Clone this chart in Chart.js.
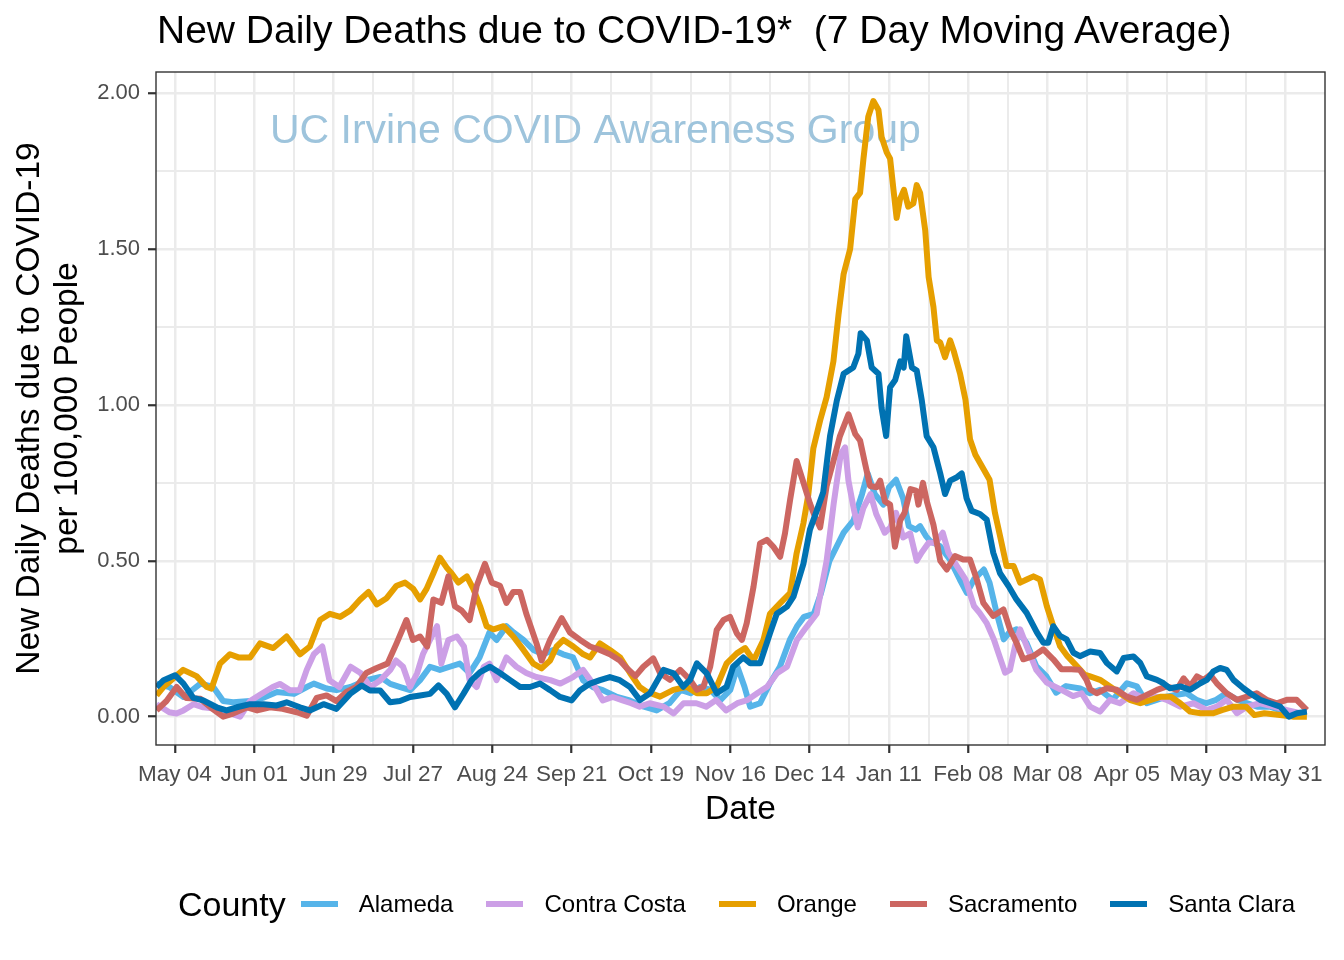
<!DOCTYPE html>
<html>
<head>
<meta charset="utf-8">
<script src="https://cdn.jsdelivr.net/npm/chart.js@4.4.1/dist/chart.umd.min.js"></script>
<style>
  html, body { margin: 0; padding: 0; background: #ffffff; }
  #wrap { position: relative; width: 1344px; height: 960px; overflow: hidden;
          font-family: "Liberation Sans", Arial, Helvetica, sans-serif; background: #fff; }
  #chart { position: absolute; left: 0; top: 0; }
  #title { position: absolute; left: 157px; top: 10px; font-size: 39px; line-height: 39px;
           color: #000; white-space: pre; }
  #legend { position: absolute; left: 178px; top: 884px; height: 40px; display: flex;
            align-items: center; white-space: pre; }
  #legend .ltitle { font-size: 34px; color: #000; margin-right: 15px; }
  #legend .key { width: 37px; height: 6px; margin-right: 21px; }
  #legend .lab { font-size: 24px; color: #000; margin-right: 33px; }
</style>
</head>
<body>
<div id="wrap">
  <canvas id="chart" width="1344" height="960"></canvas>
  <div id="title"></div>
  <div id="legend"></div>
</div>
<script>
// ---------------- data (x = days since 2020-05-04, y = deaths per 100,000) ----------------
const chartTitle = "New Daily Deaths due to COVID-19*  (7 Day Moving Average)";
const xAxisTitle = "Date";
const yAxisTitle = ["New Daily Deaths due to COVID-19", "per 100,000 People"];
const legendTitle = "County";
const watermarkText = "UC Irvine COVID Awareness Group";

const xTickDays = [0, 28, 56, 84, 112, 140, 168, 196, 224, 252, 280, 308, 336, 364, 392];
const xTickLabels = ["May 04", "Jun 01", "Jun 29", "Jul 27", "Aug 24", "Sep 21", "Oct 19",
                     "Nov 16", "Dec 14", "Jan 11", "Feb 08", "Mar 08", "Apr 05", "May 03", "May 31"];
const xMinorDays = [14, 42, 70, 98, 126, 154, 182, 210, 238, 266, 294, 322, 350, 378];
const yTickValues = [0, 0.5, 1, 1.5, 2];
const yMinorValues = [0.25, 0.75, 1.25, 1.75];

const seriesNames = ["Alameda", "Contra Costa", "Orange", "Sacramento", "Santa Clara"];
const seriesColors = ["#56B4E9", "#CC9FE6", "#E69F00", "#CC6661", "#0072B2"];

const alameda = [[-6.5,0.106],[-2,0.095],[3,0.063],[9,0.106],[13.5,0.095],[17,0.05],[20.5,0.046],[26.5,0.05],[31,0.06],[36,0.079],
[42,0.073],[46.5,0.095],[49,0.106],[53.5,0.09],[57,0.085],[62,0.095],[67.5,0.117],[72.5,0.127],[76,0.105],[79.5,0.095],
[83,0.085],[86.5,0.117],[90,0.16],[93.5,0.15],[97,0.16],[100.5,0.17],[104,0.14],[107.5,0.19],[111,0.27],[113.5,0.246],
[117,0.29],[119.5,0.27],[123,0.246],[126.5,0.214],[130,0.2],[133.5,0.214],[137,0.2],[140.5,0.19],[144,0.117],[147.5,0.095],
[151,0.085],[156,0.063],[160.5,0.052],[165.5,0.032],[170,0.02],[174.5,0.043],[178.5,0.086],[182,0.075],[185.5,0.096],[189,0.086],
[192.5,0.053],[196,0.086],[198.5,0.16],[201,0.096],[203,0.032],[206.5,0.043],[210,0.107],[213.5,0.16],[217,0.246],[219.5,0.289],
[222,0.32],[225.5,0.33],[228,0.396],[231,0.5],[233.5,0.545],[236,0.59],[239.5,0.63],[242.5,0.714],[244.5,0.78],[247,0.714],
[250,0.68],[252,0.736],[254.5,0.76],[257,0.7],[259,0.611],[261.5,0.6],[263,0.611],[265,0.58],[266.5,0.564],[270,0.547],
[273.5,0.504],[277,0.44],[279.5,0.397],[282,0.44],[285.5,0.472],[287.5,0.43],[290,0.333],[292.5,0.248],[294.5,0.27],[297,0.28],
[300.5,0.237],[304,0.162],[307.5,0.13],[311,0.077],[314.5,0.098],[319.5,0.09],[323,0.075],[326.5,0.086],[331,0.054],[336,0.107],
[339.5,0.097],[343,0.043],[346.5,0.054],[350,0.064],[353.5,0.07],[357,0.075],[360.5,0.054],[364,0.043],[367.5,0.054],[371,0.075],
[375,0.054],[378.5,0.043],[382,0.032],[386.5,0.032],[390,0.021],[395,0.011],[399.5,0.011]];

const contraCosta = [[-6.5,0.04],[-2,0.014],[0.5,0.01],[3,0.02],[6.5,0.04],[10,0.03],[14.5,0.025],[19.5,0.01],[23,0.0],[26.5,0.05],
[30,0.07],[34.5,0.095],[37,0.105],[40.5,0.085],[44,0.085],[46.5,0.15],[49,0.2],[52,0.225],[54.5,0.117],[58,0.095],
[62,0.16],[65.5,0.14],[69,0.095],[72.5,0.117],[76,0.15],[78,0.18],[80.5,0.16],[83,0.095],[85.5,0.14],[87.5,0.2],
[90,0.246],[92.5,0.29],[94,0.17],[96.5,0.246],[99.5,0.257],[102,0.225],[104,0.117],[106.5,0.095],[109,0.16],[111,0.17],
[113.5,0.117],[117,0.19],[120.5,0.16],[124,0.14],[127.5,0.127],[132.5,0.117],[136,0.106],[140.5,0.127],[144,0.15],[147.5,0.106],
[151,0.052],[154.5,0.063],[158,0.052],[161,0.043],[164,0.032],[167.5,0.043],[172.5,0.032],[176,0.01],[179.5,0.043],[184,0.043],
[187.5,0.032],[191,0.053],[194.5,0.02],[198.5,0.043],[202,0.053],[205.5,0.075],[209,0.096],[212.5,0.139],[216,0.16],[219.5,0.246],
[223,0.289],[226.5,0.33],[230,0.5],[232.5,0.684],[235,0.843],[236.5,0.864],[237.7,0.757],[239.5,0.67],[241,0.607],[243,0.67],
[245.5,0.714],[247.5,0.65],[249,0.62],[250.5,0.59],[252.5,0.607],[254.5,0.654],[257,0.575],[259.5,0.588],[261.8,0.5],[263.5,0.526],
[266,0.558],[268.5,0.558],[271,0.59],[273,0.526],[276,0.483],[279,0.44],[282,0.355],[284,0.333],[286.5,0.3],[289,0.248],
[291,0.194],[293,0.141],[294.7,0.15],[296.5,0.226],[298.3,0.28],[300.6,0.226],[304,0.15],[307.7,0.109],[312.4,0.088],[317,0.066],
[320,0.075],[323,0.032],[326.5,0.016],[330,0.054],[333.5,0.043],[338.3,0.075],[343,0.054],[346.6,0.064],[350,0.054],[354.8,0.032],
[359.5,0.043],[364.2,0.021],[367.7,0.032],[371.2,0.054],[374.8,0.011],[378.3,0.032],[383,0.043],[387.8,0.032],[392.5,0.021],[397.2,0.011],
[399.5,0.011]];

const orange = [[-6.5,0.068],[-4.1,0.095],[2.9,0.15],[7.6,0.13],[11.2,0.095],[12.9,0.09],[15.9,0.17],[19.4,0.2],[22.4,0.19],[26.5,0.19],
[30,0.235],[34.7,0.22],[39.4,0.257],[44.1,0.2],[47.6,0.225],[51.2,0.31],[54.7,0.33],[58.3,0.32],[61.8,0.34],[65.3,0.375],
[68.3,0.4],[71.2,0.36],[74.7,0.38],[78.2,0.42],[81.2,0.43],[84.1,0.41],[86.5,0.376],[88.8,0.41],[91.2,0.46],[93.5,0.51],
[95.9,0.478],[97.6,0.46],[100,0.43],[103,0.45],[105.3,0.41],[107.7,0.354],[110,0.29],[112.4,0.28],[116,0.29],[119.4,0.257],
[123,0.214],[126.5,0.17],[129.4,0.155],[132.4,0.18],[134.7,0.225],[137.1,0.246],[140.6,0.225],[144.1,0.2],[146.5,0.19],[150,0.235],
[153.5,0.214],[157.1,0.19],[160.6,0.14],[164,0.095],[166.5,0.08],[171.2,0.064],[175.9,0.086],[180.6,0.096],[184.2,0.075],[187.7,0.075],
[191.2,0.096],[194.7,0.171],[198.3,0.203],[201.2,0.22],[204.2,0.18],[207.7,0.246],[210,0.33],[213.6,0.364],[217.1,0.396],[219.4,0.524],
[221.8,0.62],[223.5,0.71],[225.3,0.86],[227.7,0.95],[230,1.025],[232.4,1.14],[234.2,1.29],[236,1.42],[238.3,1.5],[240.1,1.66],
[241.8,1.68],[243,1.79],[244.7,1.925],[246.5,1.975],[248.3,1.946],[249.4,1.86],[251.2,1.81],[252.4,1.79],[253.6,1.69],[254.7,1.6],
[255.9,1.66],[257.3,1.69],[258.8,1.636],[260.6,1.646],[261.8,1.705],[263,1.68],[264.8,1.56],[266,1.41],[267.7,1.314],[268.9,1.207],
[270.1,1.2],[271.8,1.153],[273.6,1.207],[274.8,1.175],[277.1,1.1],[279,1.017],[280.6,0.89],[282.5,0.84],[285,0.8],[287.5,0.76],
[289.4,0.654],[291.2,0.58],[293.5,0.483],[296,0.483],[298.3,0.43],[300.6,0.44],[303,0.45],[305.3,0.44],[307.7,0.355],[310,0.29],
[312.4,0.226],[315,0.194],[318.3,0.162],[321,0.135],[323,0.129],[326.5,0.118],[330,0.097],[333.5,0.075],[337,0.054],[340.7,0.043],
[344.5,0.054],[348,0.064],[351.5,0.064],[354.8,0.043],[358.3,0.016],[362,0.011],[366.5,0.011],[369.5,0.021],[373.6,0.032],[378,0.032],
[381,0.005],[384.5,0.011],[390,0.005],[394.5,0.0],[399.5,0.0]];

const sacramento = [[-6.5,0.02],[-3,0.05],[0.6,0.095],[4,0.06],[9,0.057],[12.5,0.03],[17,0.0],[20.5,0.01],[25.5,0.03],[29,0.02],
[33.5,0.03],[38,0.025],[43,0.014],[46.5,0.003],[50,0.06],[53.5,0.068],[57,0.05],[60.5,0.079],[64,0.095],[67.5,0.14],
[71,0.155],[75,0.17],[78.2,0.235],[81.7,0.31],[84,0.246],[86.5,0.257],[89,0.225],[91.2,0.376],[94,0.365],[96.5,0.45],
[98.8,0.354],[101.2,0.34],[104,0.31],[106.5,0.42],[109.4,0.49],[111.8,0.43],[114.7,0.42],[117,0.365],[119.4,0.4],[121.8,0.4],
[124,0.33],[127.6,0.235],[129.4,0.18],[132.4,0.246],[136.5,0.316],[139.4,0.27],[143,0.246],[146.5,0.225],[150,0.214],[153.5,0.2],
[157,0.18],[159.5,0.155],[162.5,0.13],[165.3,0.16],[168.8,0.187],[171.2,0.14],[174.7,0.118],[178.3,0.15],[181.8,0.118],[184.2,0.086],
[186.5,0.096],[188.9,0.16],[191.2,0.278],[193.6,0.31],[195.9,0.32],[198.3,0.267],[200.1,0.246],[201.8,0.3],[204.2,0.417],[206.5,0.556],
[208.9,0.567],[211.2,0.545],[213.6,0.513],[215.3,0.588],[217.1,0.695],[219.4,0.82],[221.5,0.76],[224.1,0.684],[225.5,0.65],[227.7,0.607],
[230,0.74],[232.4,0.82],[234.7,0.9],[237.7,0.97],[240.1,0.907],[241.8,0.886],[243.6,0.81],[245.3,0.74],[247.7,0.736],[248.9,0.757],
[250.6,0.69],[252.4,0.68],[254.1,0.545],[256,0.63],[257.5,0.654],[259.6,0.73],[261.5,0.725],[262.4,0.68],[264,0.75],[265.5,0.686],
[267.7,0.615],[270.1,0.5],[272.4,0.472],[275.3,0.515],[278.2,0.504],[280.6,0.504],[283,0.44],[285.3,0.365],[288.8,0.323],[292.4,0.344],
[294.7,0.28],[297,0.237],[299.4,0.184],[302.9,0.194],[306.5,0.216],[310,0.184],[312.9,0.152],[316.4,0.152],[319.4,0.15],[321.7,0.118],
[323,0.088],[325.3,0.075],[328.9,0.091],[332.4,0.086],[335.9,0.064],[339.5,0.054],[343,0.07],[346.6,0.086],[350.1,0.097],[353.6,0.086],
[356,0.123],[358.3,0.097],[360.7,0.129],[363,0.118],[365.4,0.134],[367.7,0.107],[371.2,0.075],[374.8,0.054],[378.3,0.064],[381.8,0.075],
[385.3,0.054],[388.9,0.043],[392.4,0.054],[395.9,0.054],[399.5,0.021]];

const santaClara = [[-6.5,0.095],[-4,0.117],[0,0.133],[3,0.106],[6.5,0.06],[10,0.052],[14.7,0.03],[18.2,0.02],[21.8,0.03],[26.5,0.04],
[31.2,0.04],[35.9,0.036],[39.4,0.046],[44.1,0.03],[47.6,0.02],[52.4,0.04],[57,0.025],[61.8,0.073],[65.9,0.1],[68.8,0.084],
[72.4,0.084],[75.9,0.046],[79.4,0.05],[83,0.063],[86.5,0.068],[90,0.073],[93,0.1],[95.9,0.073],[98.8,0.03],[101.8,0.073],
[104.7,0.117],[107.7,0.143],[111.2,0.16],[114.7,0.14],[118.3,0.117],[121.8,0.095],[125.3,0.095],[128.8,0.106],[132.4,0.085],[135.9,0.063],
[140,0.052],[143,0.085],[146.5,0.106],[150,0.117],[153.5,0.127],[157,0.117],[160.6,0.095],[164.1,0.053],[167.7,0.075],[172.4,0.15],
[176,0.139],[179.4,0.096],[181.8,0.118],[184.2,0.171],[187.7,0.139],[191.2,0.075],[194.7,0.096],[197,0.16],[200.6,0.19],[203,0.171],
[206.5,0.171],[210,0.267],[212.4,0.33],[216,0.353],[218.3,0.385],[221.8,0.49],[224.1,0.6],[226.5,0.66],[228.8,0.72],[231.2,0.9],
[233.6,1.014],[236,1.1],[239.4,1.12],[241.2,1.164],[242,1.23],[244.2,1.207],[245.9,1.12],[248.3,1.1],[249.4,0.99],[251,0.9],
[252.4,1.057],[254.2,1.08],[256,1.14],[257.2,1.12],[258.1,1.22],[260.1,1.12],[261.8,1.11],[263.6,1.014],[265.3,0.9],[267.7,0.864],
[270.1,0.78],[271.8,0.714],[273.6,0.757],[276,0.768],[277.7,0.78],[279.4,0.7],[281.2,0.66],[284.1,0.65],[286.5,0.632],[288.8,0.526],
[291.2,0.46],[294.2,0.419],[297,0.376],[300.6,0.333],[304.2,0.27],[306.5,0.237],[308.2,0.237],[310,0.29],[312.4,0.259],[314.7,0.248],
[317.1,0.205],[319.4,0.194],[323,0.209],[326.5,0.204],[328.9,0.172],[332.4,0.145],[334.8,0.188],[338.3,0.193],[340.7,0.172],[343,0.129],
[346.6,0.118],[348.9,0.107],[351.2,0.091],[354.8,0.097],[358.3,0.086],[361.9,0.107],[364.2,0.118],[366.5,0.145],[368.9,0.156],[371.2,0.15],
[373.6,0.118],[377.1,0.091],[379.5,0.075],[383,0.054],[386.6,0.043],[390.1,0.032],[393.1,0.0],[396,0.011],[399.5,0.016]];

const seriesData = [alameda, contraCosta, orange, sacramento, santaClara];

// ---------------- styling constants ----------------
const FONT = '"Liberation Sans", Arial, Helvetica, sans-serif';
const GRID = '#EBEBEB';
const DARK = '#333333';
const TICKTXT = '#4D4D4D';

document.getElementById('title').textContent = chartTitle;

// HTML legend built from the series arrays
const legendEl = document.getElementById('legend');
const lt = document.createElement('span'); lt.className = 'ltitle'; lt.textContent = legendTitle; legendEl.appendChild(lt);
seriesNames.forEach((n, i) => {
  const k = document.createElement('span'); k.className = 'key'; k.style.background = seriesColors[i]; legendEl.appendChild(k);
  const l = document.createElement('span'); l.className = 'lab'; l.textContent = n; legendEl.appendChild(l);
});

const datasets = seriesNames.map((n, i) => ({
  label: n,
  data: seriesData[i].map(p => ({ x: p[0], y: p[1] })),
  borderColor: seriesColors[i],
  backgroundColor: seriesColors[i],
  borderWidth: 6,
  pointRadius: 0,
  tension: 0,
  fill: false,
  borderJoinStyle: 'round',
  borderCapStyle: 'butt',
  order: seriesNames.length - i
}));

const isMajorX = v => xTickDays.indexOf(v) >= 0;
const isMajorY = v => yTickValues.indexOf(v) >= 0;

const watermarkPlugin = {
  id: 'watermark',
  beforeDatasetsDraw(chart) {
    const { ctx, scales } = chart;
    ctx.save();
    ctx.font = '41px ' + FONT;
    ctx.fillStyle = '#9EC4DC';
    ctx.textAlign = 'left';
    ctx.textBaseline = 'alphabetic';
    ctx.fillText(watermarkText, scales.x.getPixelForValue(33.5), scales.y.getPixelForValue(1.84));
    ctx.restore();
  }
};

const borderPlugin = {
  id: 'panelBorder',
  afterDatasetsDraw(chart) {
    const { ctx, chartArea: a } = chart;
    ctx.save();
    ctx.strokeStyle = DARK;
    ctx.lineWidth = 1.4;
    ctx.strokeRect(a.left, a.top, a.right - a.left, a.bottom - a.top);
    ctx.restore();
  }
};

new Chart(document.getElementById('chart'), {
  type: 'line',
  data: { datasets },
  options: {
    responsive: false,
    animation: false,
    devicePixelRatio: 1,
    layout: { padding: { top: 72, right: 19, left: 0, bottom: 0 } },
    plugins: { legend: { display: false }, tooltip: { enabled: false }, title: { display: false } },
    scales: {
      x: {
        type: 'linear',
        min: -6.7,
        max: 405.9,
        afterBuildTicks: s => { s.ticks = xTickDays.concat(xMinorDays).sort((a, b) => a - b).map(v => ({ value: v })); },
        afterFit: s => { s.height = 215; },
        border: { display: false },
        grid: {
          color: GRID,
          lineWidth: c => (c.tick && isMajorX(c.tick.value)) ? 2.5 : 2,
          drawTicks: true,
          tickLength: 8,
          tickColor: c => (c.tick && isMajorX(c.tick.value)) ? DARK : 'rgba(0,0,0,0)',
          tickWidth: 2.2
        },
        ticks: {
          autoSkip: false, maxRotation: 0, minRotation: 0, padding: 8,
          color: TICKTXT, font: { family: FONT, size: 22.5 },
          callback: v => { const i = xTickDays.indexOf(v); return i >= 0 ? xTickLabels[i] : ''; }
        },
        title: {
          display: true, text: xAxisTitle, color: '#000',
          font: { family: FONT, size: 33.5, lineHeight: 1.13 },
          padding: { top: 0, bottom: 131 }
        }
      },
      y: {
        type: 'linear',
        min: -0.091,
        max: 2.068,
        afterBuildTicks: s => { s.ticks = yTickValues.concat(yMinorValues).sort((a, b) => a - b).map(v => ({ value: v })); },
        afterFit: s => { s.width = 156; },
        border: { display: false },
        grid: {
          color: GRID,
          lineWidth: c => (c.tick && isMajorY(c.tick.value)) ? 2.5 : 2,
          drawTicks: true,
          tickLength: 8,
          tickColor: c => (c.tick && isMajorY(c.tick.value)) ? DARK : 'rgba(0,0,0,0)',
          tickWidth: 2.2
        },
        ticks: {
          autoSkip: false, padding: 8,
          color: TICKTXT, font: { family: FONT, size: 22 },
          callback: v => isMajorY(v) ? v.toFixed(2) : ''
        },
        title: {
          display: true, text: yAxisTitle, color: '#000',
          font: { family: FONT, size: 33.5, lineHeight: 1.13 },
          padding: { top: 11, bottom: 0 }
        }
      }
    }
  },
  plugins: [watermarkPlugin, borderPlugin]
});
</script>
</body>
</html>
